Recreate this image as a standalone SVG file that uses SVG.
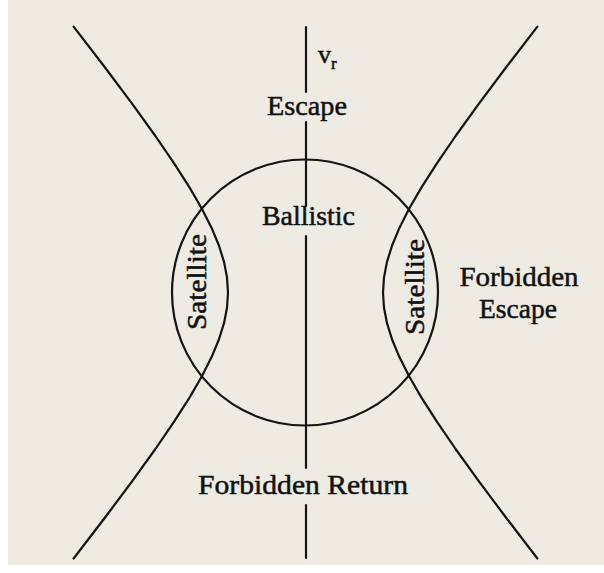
<svg xmlns="http://www.w3.org/2000/svg" width="604" height="573" viewBox="0 0 604 573">
  <style>
    .ln { fill: none; stroke: #141414; stroke-width: 2.2; stroke-linecap: round; stroke-linejoin: round; }
    .lbl { font-family: "Liberation Serif", "Times New Roman", serif; font-size: 28px; fill: #111; stroke: #111; stroke-width: 0.5; text-anchor: middle; }
  </style>
  <rect x="0" y="0" width="604" height="573" fill="#ffffff"/>
  <rect x="8" y="0" width="596" height="565" fill="#eeebe3"/>

  <g id="curves">
    <circle id="ballistic-circle" class="ln" cx="305" cy="292.5" r="133"/>
    <polyline id="left-branch" class="ln" points="73.6,26.6 105.8,68.5 132.8,104.7 155.4,136 174.1,163.4 189.5,187.4 201.9,208.8 211.6,227.9 218.9,245.5 224,261.8 227,277.4 228,292.5 227,307.7 224,323.2 218.9,339.5 211.6,357.1 201.9,376.3 189.5,397.6 174.1,421.6 155.4,449 132.8,480.3 105.8,516.5 73.6,558.5"/>
    <polyline id="right-branch" class="ln" points="537.4,26.6 505.2,68.5 478.2,104.7 455.6,136 436.9,163.4 421.5,187.4 409.1,208.8 399.4,227.9 392.1,245.5 387,261.8 384,277.4 383,292.5 384,307.7 387,323.2 392.1,339.5 399.4,357.1 409.1,376.3 421.5,397.6 436.9,421.6 455.6,449 478.2,480.3 505.2,516.5 537.4,558.5"/>
    <g id="vr-axis">
      <line class="ln" x1="306" y1="27" x2="306" y2="92" stroke-width="2.6"/>
      <line class="ln" x1="306" y1="122" x2="306" y2="206" stroke-width="2.6"/>
      <line class="ln" x1="306" y1="236" x2="306" y2="468" stroke-width="2.6"/>
      <line class="ln" x1="306" y1="505" x2="306" y2="558" stroke-width="2.6"/>
    </g>
  </g>

  <g id="axis-label">
    <text x="318" y="63" font-family="Liberation Serif, serif" font-size="26" fill="#111" stroke="#111" stroke-width="0.5">v<tspan dy="6" font-size="17">r</tspan></text>
  </g>
  <g id="escape">
    <text class="lbl" x="307" y="115" textLength="80" lengthAdjust="spacingAndGlyphs">Escape</text>
  </g>
  <g id="ballistic">
    <text class="lbl" x="308.5" y="225" textLength="93" lengthAdjust="spacingAndGlyphs">Ballistic</text>
  </g>
  <g id="satellite-left">
    <text class="lbl" transform="translate(206,282) rotate(-90)" textLength="96" lengthAdjust="spacingAndGlyphs">Satellite</text>
  </g>
  <g id="satellite-right">
    <text class="lbl" transform="translate(424,287) rotate(-90)" textLength="96" lengthAdjust="spacingAndGlyphs">Satellite</text>
  </g>
  <g id="forbidden-escape">
    <text class="lbl" x="519" y="286" textLength="119" lengthAdjust="spacingAndGlyphs">Forbidden</text>
    <text class="lbl" x="518" y="318" textLength="78" lengthAdjust="spacingAndGlyphs">Escape</text>
  </g>
  <g id="forbidden-return">
    <text class="lbl" x="303" y="494" textLength="210" lengthAdjust="spacingAndGlyphs">Forbidden Return</text>
  </g>
</svg>
